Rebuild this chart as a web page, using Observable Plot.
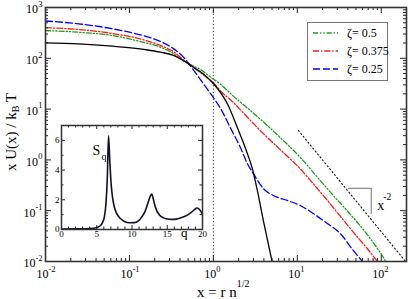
<!DOCTYPE html>
<html><head><meta charset="utf-8">
<script src="https://cdn.jsdelivr.net/npm/d3@7"></script>
<script src="https://cdn.jsdelivr.net/npm/@observablehq/plot@0.6"></script>
<style>
html,body{margin:0;padding:0;background:#fff;}
#chart{position:relative;width:408px;height:299px;}
#chart svg{position:absolute;left:0;top:0;}
</style></head><body><div id="chart"></div>
<script>
// ---- data ----
const blackX = [0.01, 0.0247, 0.0628, 0.155, 0.234, 0.334, 0.44, 0.578, 0.76, 1.0, 1.47, 1.93, 2.54, 2.91, 3.34, 3.94, 5.04];
const blackY = [202, 193, 173, 148, 132, 114, 90.5, 66.8, 49, 31.9, 12.7, 4.34, 1.34, 0.68, 0.25, 0.064, 0.0095];
const greenX = [0.01, 0.0247, 0.0628, 0.143, 0.234, 0.334, 0.44, 0.70, 0.92, 1.21, 1.73, 2.76, 4.39, 6.81, 10.9, 17.3, 26.8, 42.8, 68, 106, 115];
const greenY = [352, 326, 281, 209, 166, 124, 88, 60, 43, 31, 18, 9.4, 4.76, 2.41, 1.11, 0.46, 0.2, 0.085, 0.034, 0.012, 0.0096];
const redX = [0.01, 0.0247, 0.0628, 0.143, 0.234, 0.334, 0.44, 0.645, 0.848, 1.0, 1.21, 1.73, 2.76, 4.39, 6.81, 10.9, 15.5, 22.8, 32.5, 46.4, 68, 92];
const redY = [400, 369, 308, 234, 179, 135, 93, 58, 41, 33, 23, 13.5, 6.0, 2.76, 1.40, 0.66, 0.34, 0.16, 0.078, 0.038, 0.018, 0.0096];
const blueX = [0.01, 0.0247, 0.0628, 0.143, 0.234, 0.334, 0.44, 0.578, 0.76, 0.92, 1.056, 1.21, 1.59, 2.10, 2.54, 2.99, 3.94, 5.18, 7.6, 10.9, 15.5, 22.8, 32.5, 46.4, 61];
const blueY = [542, 478, 381, 282, 214, 155, 105, 59, 31.6, 20.4, 14.8, 10.5, 4.34, 1.75, 0.85, 0.54, 0.274, 0.199, 0.159, 0.126, 0.088, 0.056, 0.0356, 0.0165, 0.0096];
const guideX = [10.3, 200];          // x^-2 reference line
const guideY = [3.8, 0.0095];
const triX = [40.5, 76, 76];         // slope triangle
const triY = [0.274, 0.274, 0.088];
const legendLabels = ["ζ= 0.5", "ζ= 0.375", "ζ= 0.25"];
const xMajor = [0.01, 0.1, 1, 10, 100];
const yMajor = [0.01, 0.1, 1, 10, 100, 1000];
// inset S(q)
const sqQ = [0, 2, 4, 5, 5.5, 5.8, 6.1, 6.3, 6.5, 6.67, 6.85, 7.05, 7.2, 7.5, 7.8, 8.4, 9.0, 9.6, 10.3, 10.9, 11.4, 11.9, 12.3, 12.6, 12.8, 13.0, 13.2, 13.5, 13.9, 14.4, 15.0, 15.6, 16.3, 17.0, 17.8, 18.4, 18.9, 19.2, 19.5, 19.8, 20];
const sqS = [0.03, 0.04, 0.06, 0.12, 0.25, 0.45, 0.9, 1.7, 3.5, 6.3, 4.6, 3.0, 2.3, 1.5, 1.1, 0.72, 0.52, 0.45, 0.46, 0.58, 0.85, 1.27, 1.85, 2.25, 2.38, 2.1, 1.7, 1.27, 0.98, 0.8, 0.71, 0.68, 0.7, 0.8, 0.95, 1.15, 1.35, 1.45, 1.38, 1.2, 1.05];
const insetXTicks = [0, 5, 10, 15, 20];
const insetYTicks = [0, 2, 4, 6];

// ---- layout ----
const W = 408, H = 299;
const mL = 45, mR = 2, mT = 7, mB = 38;
const fw = W - mL - mR, fh = H - mT - mB;
const font = "'Liberation Serif', 'Times New Roman', serif";
const pts = (xs, ys) => xs.map((x, i) => ({x, y: ys[i]}));
const minorOf = (lo, hi) => { const out = []; for (let d = lo; d < hi; d++) for (let k = 2; k <= 9; k++) out.push(k * 10 ** d); return out; };
const xMinor = minorOf(-2, 3).filter(v => v <= 200);
const yMinor = minorOf(-2, 3);
const expStr = v => String(Math.round(Math.log10(v)));
const yNeg = yMajor.filter(v => v < 1), yPos = yMajor.filter(v => v >= 1);

const series = [
  {xs: greenX, ys: greenY, stroke: "#1f9a1f", dash: "5,2,1.3,2,1.3,2"},
  {xs: redX, ys: redY, stroke: "#ff1a1a", dash: "6,2,1.3,2"},
  {xs: blueX, ys: blueY, stroke: "#0000ff", dash: "7,3"}
];

const main = Plot.plot({
  width: W, height: H, marginLeft: mL, marginRight: mR, marginTop: mT, marginBottom: mB,
  style: {fontFamily: font, background: "transparent", color: "#000"},
  x: {type: "log", domain: [0.01, 200], axis: null},
  y: {type: "log", domain: [0.01, 1000], axis: null},
  marks: [
    Plot.ruleX([1], {stroke: "#333", strokeDasharray: "1.2,2.2", strokeWidth: 1}),
    Plot.line(pts(guideX, guideY), {x: "x", y: "y", stroke: "#111", strokeDasharray: "1.2,2.6", strokeWidth: 1.1, clip: true}),
    Plot.line(pts(triX, triY), {x: "x", y: "y", stroke: "#888", strokeWidth: 1.2}),
    ...series.map(s => Plot.line(pts(s.xs, s.ys), {x: "x", y: "y", stroke: s.stroke, strokeDasharray: s.dash, strokeWidth: 1.3, clip: true, curve: "monotone-x"})),
    Plot.line(pts(blackX, blackY), {x: "x", y: "y", stroke: "#000", strokeWidth: 1.3, clip: true, curve: "monotone-x"}),
    // inward ticks on all four sides
    Plot.ruleX(xMajor, {x: d => d, insetTop: fh - 6, stroke: "#222"}),
    Plot.ruleX(xMinor, {x: d => d, insetTop: fh - 3, stroke: "#222"}),
    Plot.ruleX(xMajor, {x: d => d, insetBottom: fh - 6, stroke: "#222"}),
    Plot.ruleX(xMinor, {x: d => d, insetBottom: fh - 3, stroke: "#222"}),
    Plot.ruleY(yMajor, {y: d => d, insetRight: fw - 6, stroke: "#222"}),
    Plot.ruleY(yMinor, {y: d => d, insetRight: fw - 3, stroke: "#222"}),
    Plot.ruleY(yMajor, {y: d => d, insetLeft: fw - 6, stroke: "#222"}),
    Plot.ruleY(yMinor, {y: d => d, insetLeft: fw - 3, stroke: "#222"}),
    // tick labels 10^n
    Plot.text(xMajor, {x: d => d, frameAnchor: "bottom", text: () => "10", textAnchor: "end", dx: 3, dy: 16, fontSize: 12}),
    Plot.text(xMajor, {x: d => d, frameAnchor: "bottom", text: expStr, textAnchor: "start", dx: 3, dy: 10, fontSize: 8.5}),
    Plot.text(yNeg, {y: d => d, frameAnchor: "left", text: () => "10", textAnchor: "end", dx: -10, dy: 2, fontSize: 12}),
    Plot.text(yPos, {y: d => d, frameAnchor: "left", text: () => "10", textAnchor: "end", dx: -7.5, dy: 2, fontSize: 12}),
    Plot.text(yMajor, {y: d => d, frameAnchor: "left", text: expStr, textAnchor: "end", dx: -3, dy: -3.5, fontSize: 8.5}),
    // slope label
    Plot.text([0], {x: () => triX[1], y: () => triY[1], text: () => "x", textAnchor: "start", dx: 6, dy: 17, fontSize: 14}),
    Plot.text([0], {x: () => triX[1], y: () => triY[1], text: () => "-2", textAnchor: "start", dx: 12, dy: 8, fontSize: 9.5}),
    Plot.frame({stroke: "#333", strokeWidth: 1.6})
  ]
});

const iL = 61, iR = 202, iT = 125, iB = 229;
const ifw = iR - iL, ifh = iB - iT;
const d3range = (a, b) => { const o = []; for (let i = a; i <= b; i++) o.push(i); return o; };
const iXMinor = d3range(0, 20).filter(v => v % 5);
const iYMinor = [1, 3, 5];

const inset = Plot.plot({
  width: W, height: H, marginLeft: iL, marginRight: W - iR, marginTop: iT, marginBottom: H - iB,
  style: {fontFamily: font, background: "transparent", color: "#000"},
  x: {domain: [0, 20], axis: null},
  y: {domain: [0, 7], axis: null},
  marks: [
    Plot.frame({fill: "white"}),
    Plot.ruleX(insetXTicks, {x: d => d, insetTop: ifh - 4, stroke: "#222"}),
    Plot.ruleX(iXMinor, {x: d => d, insetTop: ifh - 2.5, stroke: "#222"}),
    Plot.ruleX(insetXTicks, {x: d => d, insetBottom: ifh - 4, stroke: "#222"}),
    Plot.ruleX(iXMinor, {x: d => d, insetBottom: ifh - 2.5, stroke: "#222"}),
    Plot.ruleY(insetYTicks, {y: d => d, insetRight: ifw - 4, stroke: "#222"}),
    Plot.ruleY(iYMinor, {y: d => d, insetRight: ifw - 2.5, stroke: "#222"}),
    Plot.ruleY(insetYTicks, {y: d => d, insetLeft: ifw - 4, stroke: "#222"}),
    Plot.ruleY(iYMinor, {y: d => d, insetLeft: ifw - 2.5, stroke: "#222"}),
    Plot.line(pts(sqQ, sqS), {x: "x", y: "y", stroke: "#10102a", strokeWidth: 1.6, curve: "monotone-x"}),
    Plot.text(insetXTicks, {x: d => d, frameAnchor: "bottom", text: d => String(d), dy: 7, fontSize: 9}),
    Plot.text(insetYTicks, {y: d => d, frameAnchor: "left", text: d => String(d), textAnchor: "end", dx: -2, fontSize: 9}),
    Plot.text([0], {x: () => 17.4, frameAnchor: "bottom", text: () => "q", dy: 7, fontSize: 13}),
    Plot.text([0], {x: () => 4.4, y: () => 5.3, text: () => "S", textAnchor: "start", fontSize: 14}),
    Plot.text([0], {x: () => 4.4, y: () => 5.3, text: () => "q", textAnchor: "start", dx: 9, dy: 6, fontSize: 10}),
    Plot.frame({stroke: "#333", strokeWidth: 1.5})
  ]
});

const host = document.getElementById("chart");
host.appendChild(main);
host.appendChild(inset);

// axis titles and legend (layout only)
const svg = d3.select(main);
const yl = svg.append("text").attr("transform", "translate(16,132) rotate(-90)")
  .attr("text-anchor", "middle").attr("font-size", 15).attr("font-family", font).attr("fill", "#000");
yl.append("tspan").text("x U(x) / k");
yl.append("tspan").attr("dy", 3).attr("font-size", 10).text("B");
yl.append("tspan").attr("dy", -3).text(" T");
const xl = svg.append("text").attr("x", 197).attr("y", 297).attr("text-anchor", "start")
  .attr("font-size", 15).attr("font-family", font).attr("fill", "#000");
xl.append("tspan").text("x = r n");
xl.append("tspan").attr("dy", -10).attr("font-size", 10).text("1/2");

const lg = svg.append("g");
lg.append("rect").attr("x", 307.5).attr("y", 22.5).attr("width", 80).attr("height", 58)
  .attr("fill", "white").attr("stroke", "#777").attr("stroke-width", 1);
series.forEach((s, i) => {
  const yy = 33 + i * 18;
  lg.append("line").attr("x1", 313).attr("x2", 338).attr("y1", yy).attr("y2", yy)
    .attr("stroke", s.stroke).attr("stroke-width", 1.3).attr("stroke-dasharray", s.dash);
  lg.append("text").attr("x", 347).attr("y", yy + 4).attr("font-size", 12).attr("text-anchor", "start")
    .attr("font-family", font).attr("fill", "#000").text(legendLabels[i]);
});
</script></body></html>
